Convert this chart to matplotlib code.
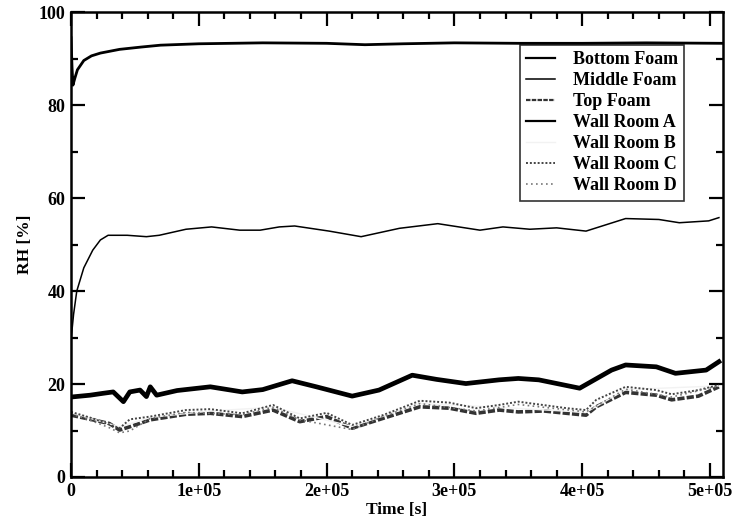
import matplotlib
matplotlib.use('Agg')
import matplotlib.pyplot as plt
from matplotlib.ticker import MultipleLocator, FuncFormatter

# Relative humidity readings: time [s] and RH [%] for each sensor
t_bottom = [0, 800, 1500, 3000, 5000, 1.0e4, 1.6e4, 2.3e4, 3.8e4, 5.5e4, 7.0e4,
            1.0e5, 1.5e5, 2.0e5, 2.3e5, 2.6e5, 3.0e5, 3.5e5, 4.0e5, 4.5e5, 5.1e5]
rh_bottom = [94.5, 88.0, 84.3, 85.8, 87.6, 89.6, 90.6, 91.2, 92.0, 92.5, 92.9,
             93.2, 93.4, 93.3, 93.0, 93.2, 93.4, 93.3, 93.3, 93.4, 93.3]

t_middle = [0, 2000, 4500, 1.0e4, 1.7e4, 2.3e4, 2.9e4, 4.4e4, 5.9e4, 6.9e4, 9.0e4,
            1.1e5, 1.32e5, 1.48e5, 1.63e5, 1.75e5, 2.02e5, 2.27e5, 2.57e5, 2.87e5,
            3.2e5, 3.38e5, 3.59e5, 3.8e5, 4.03e5, 4.34e5, 4.6e5, 4.76e5, 4.99e5, 5.07e5]
rh_middle = [29.5, 35.0, 40.0, 45.0, 48.8, 51.0, 52.0, 52.0, 51.7, 52.0, 53.3,
             53.8, 53.1, 53.1, 53.8, 54.0, 52.9, 51.7, 53.5, 54.5,
             53.1, 53.8, 53.3, 53.6, 52.9, 55.6, 55.4, 54.7, 55.1, 55.8]

t_top = [0, 1.7e4, 3.0e4, 3.8e4, 4.6e4, 6.2e4, 9.0e4, 1.09e5, 1.34e5, 1.58e5,
         1.79e5, 2.0e5, 2.2e5, 2.44e5, 2.73e5, 2.96e5, 3.17e5, 3.35e5, 3.5e5,
         3.7e5, 3.88e5, 4.03e5, 4.11e5, 4.34e5, 4.58e5, 4.7e5, 4.91e5, 5.07e5]
rh_top = [13.3, 12.3, 11.5, 10.1, 10.8, 12.3, 13.5, 13.7, 13.0, 14.4,
          11.9, 13.0, 10.5, 12.6, 15.1, 14.8, 13.7, 14.4, 14.0,
          14.2, 13.7, 13.3, 15.1, 18.2, 17.6, 16.6, 17.4, 19.4]

t_wall_a = [0, 1.5e4, 2.5e4, 3.3e4, 4.1e4, 4.6e4, 5.4e4, 5.9e4, 6.2e4, 6.7e4,
            8.3e4, 1.09e5, 1.34e5, 1.5e5, 1.73e5, 1.92e5, 2.2e5, 2.41e5, 2.67e5,
            2.86e5, 3.09e5, 3.35e5, 3.5e5, 3.66e5, 3.98e5, 4.23e5, 4.34e5, 4.58e5,
            4.73e5, 4.97e5, 5.07e5]
rh_wall_a = [17.2, 17.6, 18.0, 18.3, 16.2, 18.3, 18.7, 17.3, 19.4, 17.6,
             18.6, 19.4, 18.3, 18.8, 20.7, 19.4, 17.4, 18.7, 21.9,
             21.0, 20.1, 20.9, 21.2, 20.9, 19.1, 23.0, 24.1, 23.7,
             22.3, 23.0, 24.8]

t_wall_b = [0, 3.8e4, 6.2e4, 1.09e5, 1.58e5, 2.2e5, 2.73e5, 3.35e5, 4.03e5, 4.34e5, 5.07e5]
rh_wall_b = [13.8, 10.8, 12.8, 14.2, 15.0, 10.9, 15.8, 15.0, 13.9, 18.8, 19.6]

t_wall_c = [0, 1.7e4, 3.8e4, 4.6e4, 6.2e4, 9.0e4, 1.09e5, 1.34e5, 1.58e5,
            1.79e5, 2.0e5, 2.2e5, 2.44e5, 2.73e5, 2.96e5, 3.17e5, 3.35e5, 3.5e5,
            3.88e5, 4.03e5, 4.11e5, 4.34e5, 4.58e5, 4.7e5, 4.91e5, 5.07e5]
rh_wall_c = [14.0, 12.6, 10.5, 12.4, 13.0, 14.4, 14.6, 13.7, 15.5,
             12.6, 13.8, 11.2, 13.3, 16.4, 16.0, 14.8, 15.5, 16.2,
             14.8, 14.4, 16.6, 19.4, 18.7, 17.8, 18.7, 19.8]

t_wall_d = [0, 1.7e4, 3.0e4, 3.8e4, 4.6e4, 5.5e4, 6.2e4, 9.0e4, 1.34e5, 1.58e5,
            1.79e5, 2.2e5, 2.44e5, 2.73e5, 3.17e5, 3.5e5, 4.03e5, 4.34e5, 4.7e5, 5.07e5]
rh_wall_d = [13.6, 12.0, 10.6, 9.5, 9.9, 11.4, 12.6, 13.9, 13.4, 15.0,
             12.3, 10.2, 13.0, 15.8, 14.2, 15.6, 14.0, 18.9, 17.2, 19.6]

plt.rcParams['font.family'] = ['Liberation Serif', 'DejaVu Serif']
plt.rcParams['font.weight'] = 'bold'

fig = plt.figure(figsize=(7.36, 5.27), dpi=100)
ax = fig.add_axes([0.0965, 0.0949, 0.8855, 0.882])

# noisy wall/foam signals are drawn as thick bands
ax.plot(t_bottom, rh_bottom, color='black', lw=2.0, label='Bottom Foam')
ax.plot(t_middle, rh_middle, color='black', lw=1.1, label='Middle Foam')
ax.plot(t_top, rh_top, color='#333333', lw=2.6, ls=(0, (2, 0.6)), label='Top Foam')
ax.plot(t_wall_a, rh_wall_a, color='black', lw=3.4, label='Wall Room A')
ax.plot(t_wall_b, rh_wall_b, color='#f2f2f2', lw=1.0, label='Wall Room B')
ax.plot(t_wall_c, rh_wall_c, color='#444444', lw=1.4, ls=(0, (1, 1)), label='Wall Room C')
ax.plot(t_wall_d, rh_wall_d, color='#777777', lw=1.2, ls=(0, (1, 2)), label='Wall Room D')

ax.set_xlim(0, 5.1e5)
ax.set_ylim(0, 100)
ax.xaxis.set_major_locator(MultipleLocator(1e5))
ax.xaxis.set_minor_locator(MultipleLocator(2e4))
ax.yaxis.set_major_locator(MultipleLocator(20))
ax.yaxis.set_minor_locator(MultipleLocator(10))
ax.xaxis.set_major_formatter(FuncFormatter(lambda v, p: '0' if v == 0 else '%de+05' % round(v / 1e5)))

ax.tick_params(which='both', direction='in', top=True, right=True, width=1.6)
ax.tick_params(which='major', length=10, labelsize=13, pad=4)
ax.tick_params(which='minor', length=5)
for s in ax.spines.values():
    s.set_linewidth(1.8)

ax.set_xlabel('Time [s]', fontsize=12.5, fontweight='bold', labelpad=2)
ax.set_ylabel('RH [%]', fontsize=12.5, fontweight='bold', labelpad=4)

leg = ax.legend(loc='upper right', bbox_to_anchor=(0.941, 0.929), fontsize=13,
                frameon=True, fancybox=False, edgecolor='black', handlelength=1.6,
                handletextpad=1.0, labelspacing=0.22, borderpad=0.35, borderaxespad=0)
leg.get_frame().set_linewidth(1.2)
for line in leg.get_lines():
    line.set_linewidth(min(line.get_linewidth(), 1.6))

fig.savefig('out.png', dpi=100)
